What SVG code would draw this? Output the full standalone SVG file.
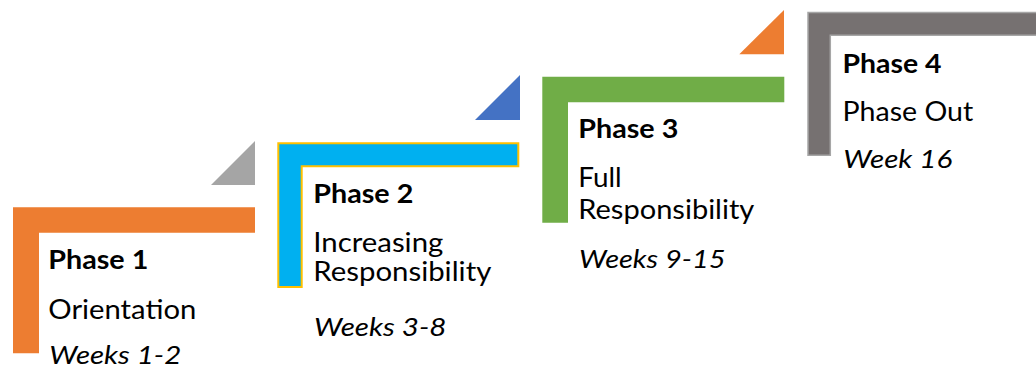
<svg xmlns="http://www.w3.org/2000/svg" width="1036" height="366" viewBox="0 0 1036 366">
<style>
text { font-family: Lato, "Open Sans", "Liberation Sans", sans-serif; font-size: 26px; fill: #000; }
.h { font-weight: bold; }
.w { font-style: italic; }
</style>
<rect x="0" y="0" width="1036" height="366" fill="#ffffff"/>
<g id="connectors"></g>
<g id="phase1">
  <polygon points="211,185 255,141 255,185" fill="#A5A5A5"/>
  <path d="M13,207.3 H255 V232.7 H39 V353.3 H13 Z" fill="#ED7D31"/>
  <text class="h" x="48.3" y="268.5" textLength="100" lengthAdjust="spacingAndGlyphs">Phase 1</text>
  <text x="48.3" y="319" textLength="148" lengthAdjust="spacingAndGlyphs">Orientation</text>
  <text class="w" x="49.3" y="364" textLength="132" lengthAdjust="spacingAndGlyphs">Weeks 1-2</text>
</g>
<g id="phase2">
  <polygon points="475,120 520,75 520,120" fill="#4472C4"/>
  <path d="M278.3,143.3 H518.3 V166.3 H301.7 V287 H278.3 Z" fill="#00B0F0" stroke="#FFC000" stroke-width="2"/>
  <text class="h" x="313.3" y="202.5" textLength="100" lengthAdjust="spacingAndGlyphs">Phase 2</text>
  <text x="313.3" y="252" textLength="130" lengthAdjust="spacingAndGlyphs">Increasing</text>
  <text x="313.3" y="280.5" textLength="178" lengthAdjust="spacingAndGlyphs">Responsibility</text>
  <text class="w" x="314" y="335.7" textLength="132.5" lengthAdjust="spacingAndGlyphs">Weeks 3-8</text>
</g>
<g id="phase3">
  <polygon points="739.3,54.3 784,10 784,54.3" fill="#ED7D31"/>
  <path d="M542.3,76.7 H784.3 V102.3 H568 V222.7 H542.3 Z" fill="#70AD47"/>
  <text class="h" x="578.3" y="137.5" textLength="100" lengthAdjust="spacingAndGlyphs">Phase 3</text>
  <text x="578.3" y="187" textLength="43.4" lengthAdjust="spacingAndGlyphs">Full</text>
  <text x="578.3" y="219" textLength="176" lengthAdjust="spacingAndGlyphs">Responsibility</text>
  <text class="w" x="579" y="268" textLength="146.5" lengthAdjust="spacingAndGlyphs">Weeks 9-15</text>
</g>
<g id="phase4">
  <path d="M808,12.4 H1050 V35.3 H830.3 V155.3 H808 Z" fill="#767171" stroke="#A6A6A6" stroke-width="1.5"/>
  <text class="h" x="842.5" y="72.7" textLength="99" lengthAdjust="spacingAndGlyphs">Phase 4</text>
  <text x="842.5" y="121" textLength="130.7" lengthAdjust="spacingAndGlyphs">Phase Out</text>
  <text class="w" x="843.3" y="168" textLength="109" lengthAdjust="spacingAndGlyphs">Week 16</text>
</g>
</svg>
